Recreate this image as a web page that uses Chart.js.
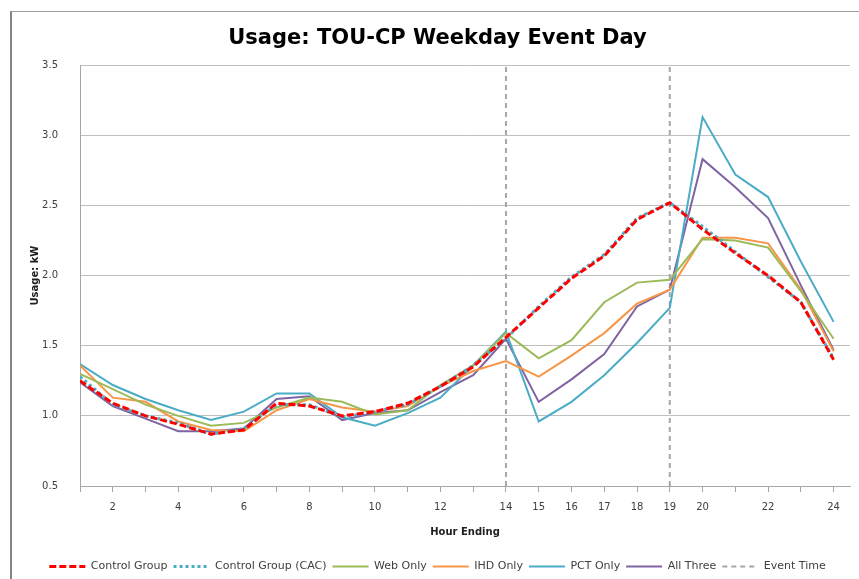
<!DOCTYPE html>
<html>
<head>
<meta charset="utf-8">
<script src="https://cdn.jsdelivr.net/npm/chart.js@4/dist/chart.umd.min.js"></script>
<style>
  body { margin: 0; background: #fff; overflow: hidden; }
  #frame { position: absolute; left: 10px; top: 11px; width: 900px; height: 600px;
           border-left: 2px solid #858585; border-top: 1px solid #a0a0a0; }
  #wrap { position: absolute; left: 0; top: 0; width: 859px; height: 582px; }
</style>
</head>
<body>
<div id="frame"></div>
<div id="wrap"><canvas id="usageChart"></canvas></div>
<script>
const hours = [1, 2, 3, 4, 5, 6, 7, 8, 9, 10, 11, 12, 13, 14, 15, 16, 17, 18, 19, 20, 21, 22, 23, 24];
const shownHours = [2, 4, 6, 8, 10, 12, 14, 15, 16, 17, 18, 19, 20, 22, 24];
const eventHours = [14, 19];

const controlGroup = [1.25, 1.09, 1.00, 0.94, 0.87, 0.90, 1.09, 1.07, 1.00, 1.03, 1.09, 1.21,
                      1.35, 1.56, 1.77, 1.98, 2.14, 2.40, 2.52, 2.33, 2.16, 2.00, 1.81, 1.40];
const controlCAC   = [1.28, 1.08, 1.00, 0.95, 0.87, 0.91, 1.08, 1.08, 0.99, 1.03, 1.08, 1.21,
                      1.36, 1.55, 1.78, 1.99, 2.15, 2.41, 2.52, 2.35, 2.17, 1.99, 1.81, 1.41];
const webOnly      = [1.30, 1.19, 1.08, 1.00, 0.93, 0.95, 1.06, 1.13, 1.10, 1.01, 1.04, 1.22,
                      1.36, 1.59, 1.41, 1.54, 1.81, 1.95, 1.97, 2.26, 2.25, 2.20, 1.89, 1.55];
const ihdOnly      = [1.36, 1.13, 1.10, 0.96, 0.90, 0.89, 1.04, 1.12, 1.06, 1.03, 1.07, 1.21,
                      1.32, 1.39, 1.28, 1.43, 1.59, 1.80, 1.90, 2.27, 2.27, 2.23, 1.90, 1.46];
const pctOnly      = [1.37, 1.22, 1.12, 1.04, 0.97, 1.03, 1.16, 1.16, 0.99, 0.93, 1.02, 1.13,
                      1.36, 1.60, 0.96, 1.10, 1.29, 1.52, 1.77, 3.13, 2.72, 2.56, 2.10, 1.67];
const allThree     = [1.24, 1.07, 0.98, 0.89, 0.89, 0.91, 1.12, 1.14, 0.97, 1.02, 1.04, 1.17,
                      1.29, 1.55, 1.10, 1.26, 1.44, 1.78, 1.90, 2.83, 2.63, 2.41, 1.93, 1.47];

const yMin = 0.5, yMax = 3.5;

// vertical event markers: two segments, broken by a null point
const eventLine = [];
eventHours.forEach((h, i) => {
    if (i > 0) eventLine.push({ x: h, y: null });
    eventLine.push({ x: h, y: yMin }, { x: h, y: yMax });
});

function series(label, data, color, width, dash) {
    return {
        label: label,
        data: data,
        borderColor: color,
        backgroundColor: color,
        borderWidth: width,
        borderDash: dash || [],
        pointRadius: 0,
        pointHoverRadius: 0,
        pointStyle: 'line',
        tension: 0,
        fill: false,
    };
}

const ctx = document.getElementById('usageChart').getContext('2d');
Chart.defaults.font.family = '"DejaVu Sans", Verdana, sans-serif';
Chart.defaults.color = '#404040';

new Chart(ctx, {
    type: 'line',
    data: {
        labels: hours,
        datasets: [
            series('Control Group', controlGroup, '#ff0000', 3, [7, 3]),
            series('Control Group (CAC)', controlCAC, '#4bacc6', 3, [3, 3]),
            series('Web Only', webOnly, '#9bbb59', 2),
            series('IHD Only', ihdOnly, '#f79646', 2),
            series('PCT Only', pctOnly, '#4bacc6', 2),
            series('All Three', allThree, '#8064a2', 2),
            Object.assign(series('Event Time', eventLine, '#a6a6a6', 2, [5, 4]), { spanGaps: false }),
        ],
    },
    options: {
        responsive: true,
        maintainAspectRatio: false,
        animation: false,
        layout: { padding: { left: 25, top: 10, right: 9, bottom: 0 } },
        plugins: {
            title: {
                display: true,
                text: 'Usage: TOU-CP Weekday Event Day',
                color: '#000',
                font: { size: 21, weight: 'bold' },
                padding: { top: 16, bottom: 14 },
            },
            legend: {
                position: 'bottom',
                labels: {
                    usePointStyle: true,
                    pointStyleWidth: 36,
                    padding: 6,
                    color: '#404040',
                    font: { size: 11 },
                    generateLabels: (chart) => {
                        const items = Chart.defaults.plugins.legend.labels.generateLabels(chart);
                        items.forEach((item) => {
                            const ds = chart.data.datasets[item.datasetIndex];
                            item.lineDash = ds.borderDash;
                            item.lineWidth = ds.borderWidth;
                            item.strokeStyle = ds.borderColor;
                        });
                        return items;
                    },
                },
            },
            tooltip: { enabled: false },
        },
        scales: {
            x: {
                type: 'linear',
                min: 1,
                max: 24.5,
                grid: { drawOnChartArea: false, drawTicks: true, tickLength: 6, color: '#a6a6a6' },
                border: { color: '#a6a6a6' },
                ticks: {
                    stepSize: 1,
                    autoSkip: false,
                    includeBounds: false,
                    maxRotation: 0,
                    padding: 9,
                    font: { size: 10 },
                    callback: (v) => (shownHours.includes(v) ? String(v) : ''),
                },
                title: {
                    display: true,
                    text: 'Hour Ending',
                    color: '#202020',
                    font: { size: 10, weight: 'bold' },
                    padding: { top: 4, bottom: 17 },
                },
            },
            y: {
                min: yMin,
                max: yMax,
                grid: { color: '#bfbfbf', drawTicks: false },
                border: { color: '#a6a6a6' },
                ticks: {
                    stepSize: 0.5,
                    padding: 22,
                    font: { size: 10 },
                    callback: (v) => v.toFixed(1),
                },
                title: {
                    display: true,
                    text: 'Usage: kW',
                    color: '#202020',
                    font: { size: 10, weight: 'bold' },
                    padding: { top: 4, bottom: 0 },
                },
                afterFit: (scale) => { scale.width = 55; },
            },
        },
    },
});
</script>
</body>
</html>
